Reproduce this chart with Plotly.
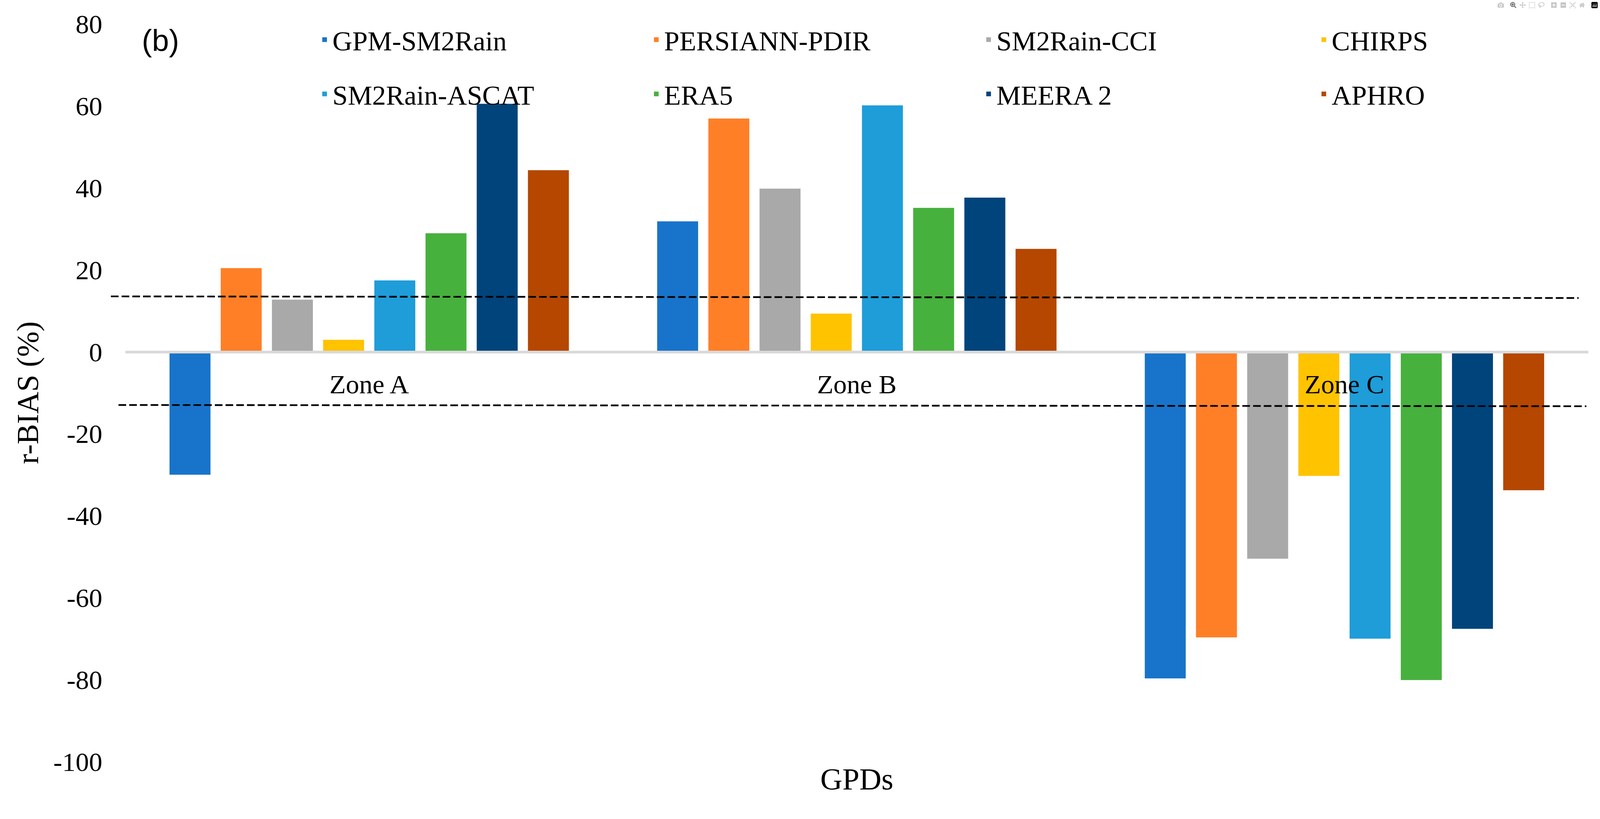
import plotly.graph_objects as go

zones = ["Zone A", "Zone B", "Zone C"]
products = ["GPM-SM2Rain", "PERSIANN-PDIR", "SM2Rain-CCI", "CHIRPS",
            "SM2Rain-ASCAT", "ERA5", "MEERA 2", "APHRO"]
colors = ["#1874CA", "#FF7F27", "#A9A9A9", "#FFC300",
          "#1E9DD9", "#47B13D", "#00447C", "#B54700"]

gpm_sm2rain = [-30.0, 31.8, -79.7]
persiann_pdir = [20.4, 56.9, -69.7]
sm2rain_cci = [12.7, 39.8, -50.5]
chirps = [2.9, 9.3, -30.3]
sm2rain_ascat = [17.4, 60.1, -70.0]
era5 = [28.9, 35.1, -80.1]
meera2 = [60.5, 37.6, -67.6]
aphro = [44.3, 25.1, -33.8]
series = [gpm_sm2rain, persiann_pdir, sm2rain_cci, chirps,
          sm2rain_ascat, era5, meera2, aphro]

upper_limit = [13.5, 13.1]
lower_limit = [-13.0, -13.3]

y_ticks = [80, 60, 40, 20, 0, -20, -40, -60, -80, -100]

# page is photographed with image px ~ 1.022 CSS px
S = 4096 / 4186


def px(v):
    return v * S


SERIF = "Liberation Serif, Times New Roman, serif"

# legend layout: 4 columns x 2 rows (container fractions)
leg_x = [0.198, 0.4053, 0.613, 0.8225]
leg_y = [1 - 104 / 2097, 1 - 246 / 2097]

fig = go.Figure()
for i, (name, vals, col) in enumerate(zip(products, series, colors)):
    fig.add_trace(go.Bar(
        x=zones, y=vals, name=name,
        marker=dict(color=col, line=dict(width=0)),
        legend="legend" if i == 0 else f"legend{i + 1}",
        showlegend=True,
    ))

line_ext = [(-0.0099, 0.9934), (-0.0047, 0.9987)]
for yl, (xa, xb) in zip((upper_limit, lower_limit), line_ext):
    fig.add_shape(type="line", xref="paper", yref="y",
                  x0=xa, x1=xb, y0=yl[0], y1=yl[1],
                  line=dict(color="black", width=px(4.5),
                            dash=f"{px(20):.1f}px,{px(8):.1f}px"))

fig.add_annotation(text="(b)", xref="paper", yref="paper",
                   x=0.024, y=0.977, xanchor="center", yanchor="middle",
                   showarrow=False,
                   font=dict(family="Liberation Sans, Arial, sans-serif",
                             size=px(80), color="black"))

legends = {}
for i in range(8):
    key = "legend" if i == 0 else f"legend{i + 1}"
    legends[key] = dict(
        orientation="h", xref="container", yref="container",
        x=leg_x[i % 4], xanchor="left", y=leg_y[i // 4], yanchor="middle",
        font=dict(family=SERIF, size=px(72), color="black"),
        bgcolor="rgba(0,0,0,0)", borderwidth=0, visible=True,
    )

fig.update_layout(
    width=4096, height=2052, autosize=False,
    showlegend=True,
    margin=dict(l=px(328), r=px(31), t=px(62), b=px(104), autoexpand=False),
    paper_bgcolor="white", plot_bgcolor="white",
    barmode="group", bargap=0.16, bargroupgap=0.2,
    font=dict(family=SERIF, size=px(70), color="black"),
    xaxis=dict(
        type="category", anchor="free", position=100 / 180,
        showline=True, linecolor="#D9D9D9", linewidth=px(7), layer="above traces",
        ticks="", showgrid=False, zeroline=False, ticklabelstandoff=20,
        tickfont=dict(family=SERIF, size=px(70), color="black"),
        title=dict(text="GPDs", standoff=945,
                   font=dict(family=SERIF, size=px(80), color="black")),
    ),
    yaxis=dict(
        range=[-100, 80], tickvals=y_ticks, ticktext=[str(v) for v in y_ticks],
        showgrid=False, zeroline=False, showline=False, ticks="",
        ticklabelstandoff=58,
        tickfont=dict(family=SERIF, size=px(70), color="black"),
        title=dict(text="r-BIAS (%)", standoff=13,
                   font=dict(family=SERIF, size=px(80), color="black")),
    ),
    **legends,
)

fig.write_html(
    "out.html",
    post_script="document.body.style.margin='0';document.body.style.overflow='hidden';",
)
